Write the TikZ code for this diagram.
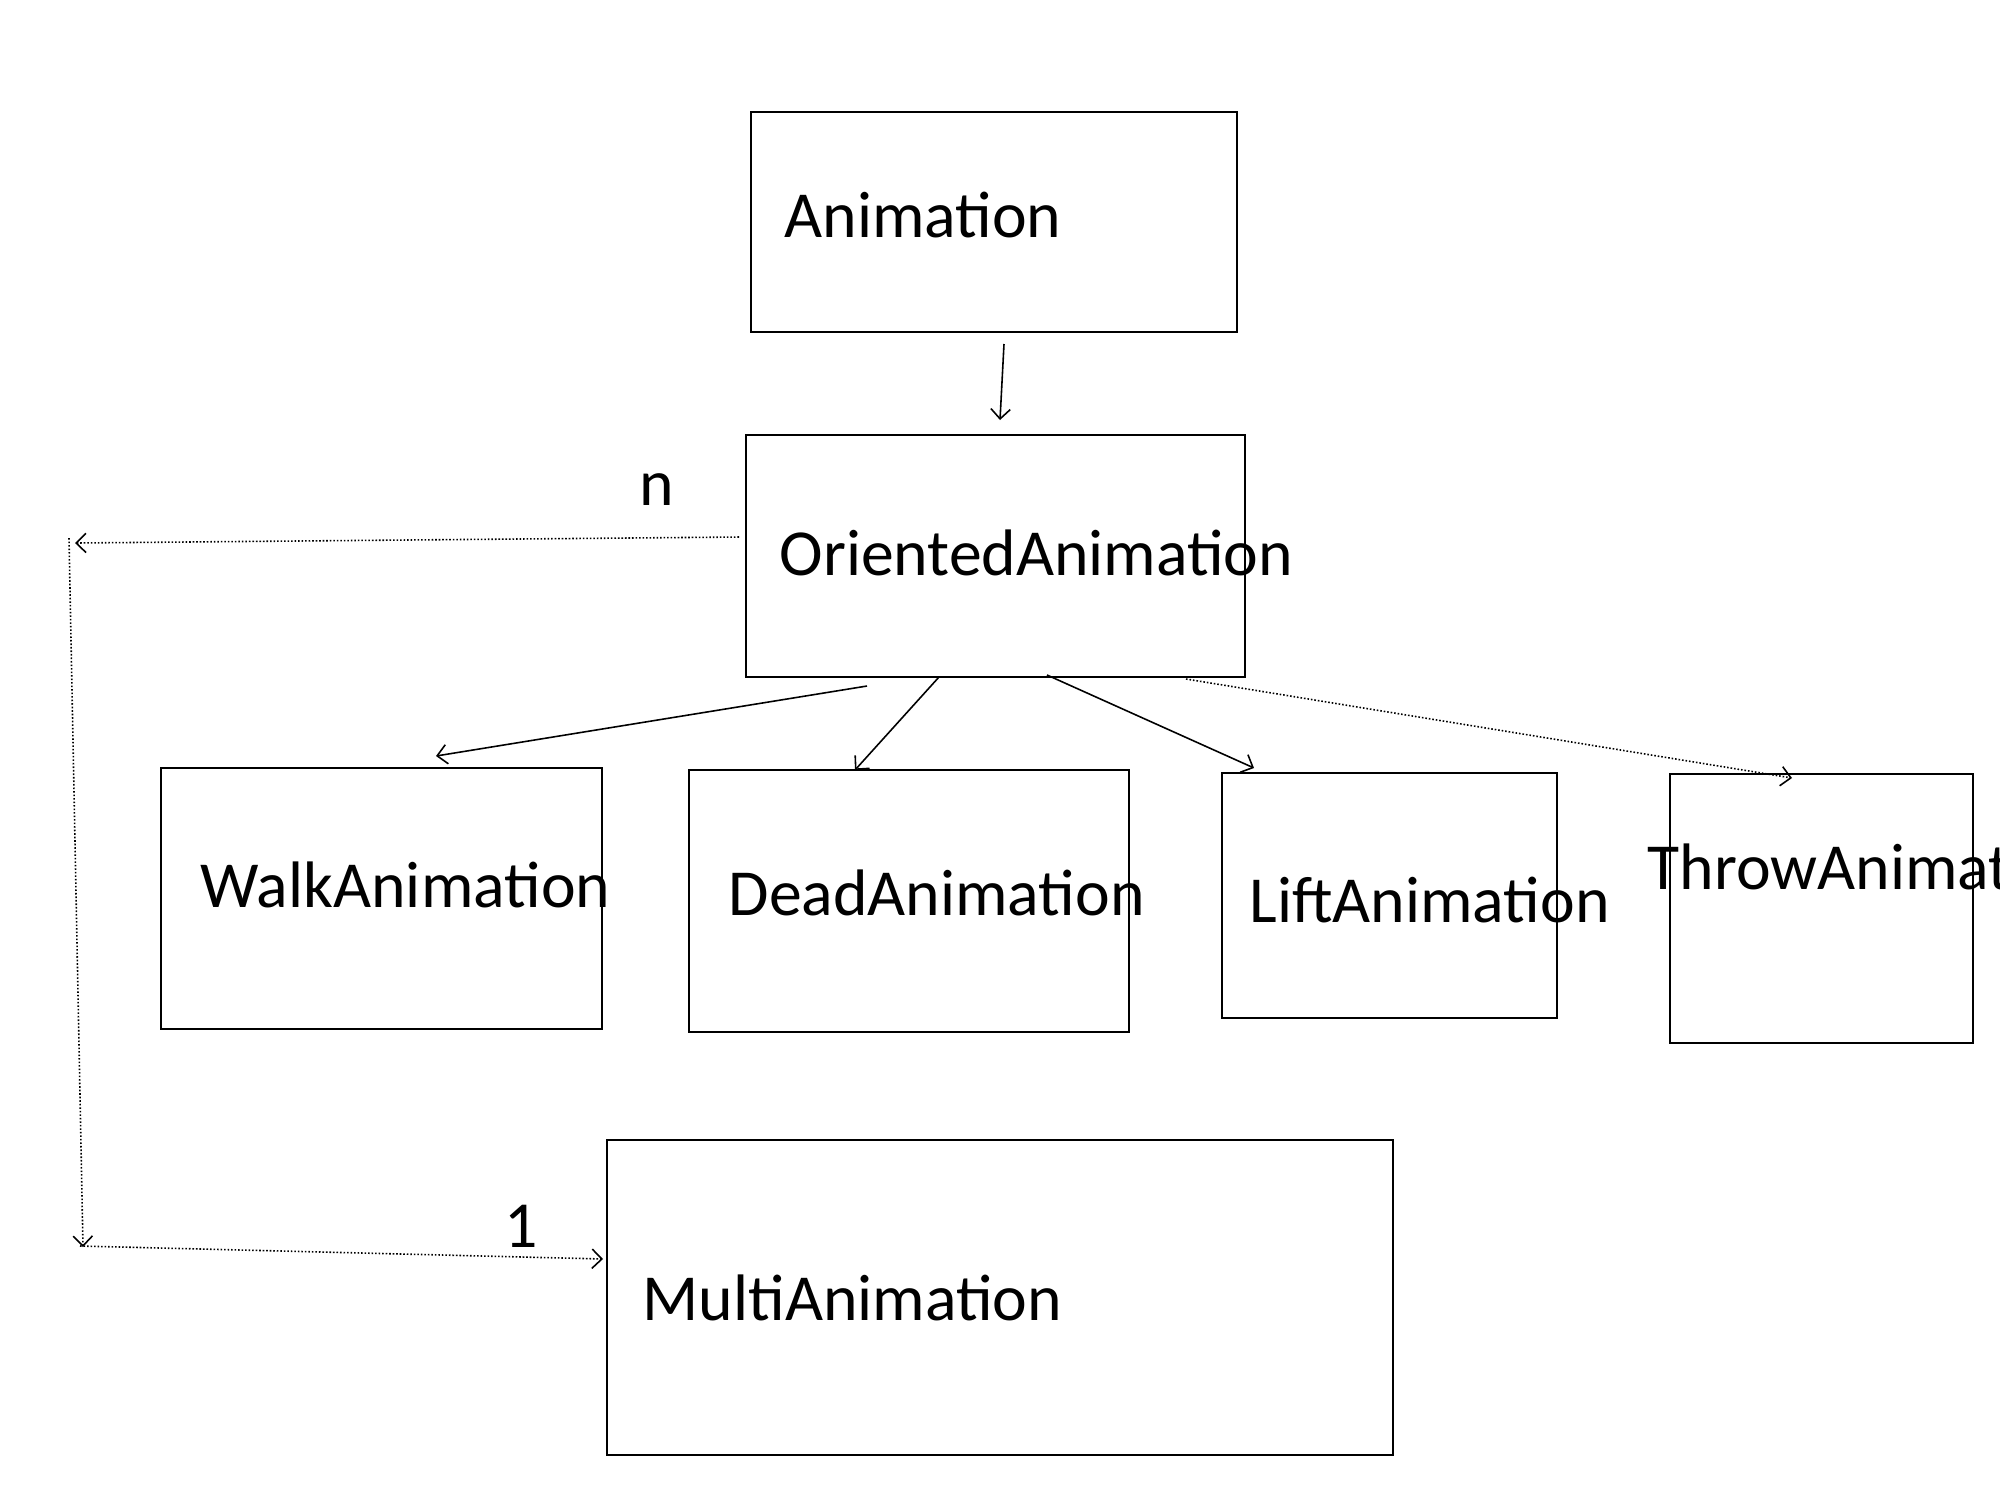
\documentclass[tikz,border=0pt]{standalone}
\usepackage{fontspec}
\setmainfont{Carlito}
\usepackage{tikz}
\usetikzlibrary{positioning, calc, arrows.meta}

\begin{document}
\begin{tikzpicture}[
    classbox/.style={draw, line width=0.6pt, rectangle, inner sep=0pt, outer sep=0pt, anchor=north west},
    classname/.style={anchor=base west, inner sep=0pt, font=\fontsize{18.7pt}{22pt}\selectfont},
    inherit/.style={line width=0.45pt, -{Straight Barb[length=2.8pt, width=5.5pt]}},
    assoc/.style={inherit, dash pattern=on 0.45pt off 0.55pt}
  ]
      \useasboundingbox (0,-15) rectangle (20,0);
      %% Class boxes
      \node[classbox, minimum width=4.86cm, minimum height=2.20cm] (anim)   at (7.51,-1.12) {};
      \node[classbox, minimum width=4.99cm, minimum height=2.42cm] (orient) at (7.46,-4.35) {};
      \node[classbox, minimum width=4.41cm, minimum height=2.61cm] (walk)   at (1.61,-7.68) {};
      \node[classbox, minimum width=4.40cm, minimum height=2.62cm] (dead)   at (6.89,-7.70) {};
      \node[classbox, minimum width=3.35cm, minimum height=2.45cm] (lift)   at (12.22,-7.73) {};
      \node[classbox, minimum width=3.03cm, minimum height=2.69cm] (throw)  at (16.70,-7.74) {};
      \node[classbox, minimum width=7.86cm, minimum height=3.15cm] (multi)  at (6.07,-11.40) {};
      %% Class names
      \node[classname] (animtxt)   at (7.84,-2.37)  {Animation};
      \node[classname] (orienttxt) at (7.79,-5.75)  {OrientedAnimation};
      \node[classname] (walktxt)   at (2.00,-9.07)  {WalkAnimation};
      \node[classname] (deadtxt)   at (7.28,-9.15)  {DeadAnimation};
      \node[classname] (lifttxt)   at (12.49,-9.22) {LiftAnimation};
      \node[classname] (throwtxt)  at (16.47,-8.89) {ThrowAnimation};
      \node[classname] (multitxt)  at (6.42,-13.20) {MultiAnimation};
      %% Multiplicities
      \node[classname] (mult-n)   at (6.39,-5.05)  {n};
      \node[classname] (mult-one) at (5.04,-12.47) {1};
      %% Inheritance
      \draw[inherit] ($(anim.south)+(0.10,-0.12)$) -- ($(orient.north)+(0.045,0.15)$);
      \draw[inherit] ($(orient.south)+(-1.285,-0.09)$) -- ($(walk.north)+(0.545,0.12)$);
      \draw[inherit] ($(orient.south)+(-0.565,0)$) -- ($(dead.north)+(-0.54,0)$);
      \draw[inherit] ($(orient.south)+(0.515,0.02)$) -- ($(lift.north)+(-1.355,0.05)$);
      \draw[assoc] ($(orient.south)+(1.905,-0.02)$) -- ($(throw.north)+(-0.295,-0.04)$);
      %% Aggregation path to MultiAnimation
      \coordinate (bendtip) at (0.75,-5.43);
      \coordinate (bendtop) at (0.69,-5.38);
      \coordinate (bendbot) at (0.83,-12.47);
      \coordinate (bendout) at (0.80,-12.46);
      \draw[assoc] ($(orient.west)+(-0.07,0.19)$) -- (bendtip);
      \draw[assoc] (bendtop) -- (bendbot);
      \draw[assoc] (bendout) -- ($(multi.west)+(-0.04,0.385)$);
\end{tikzpicture}
\end{document}
